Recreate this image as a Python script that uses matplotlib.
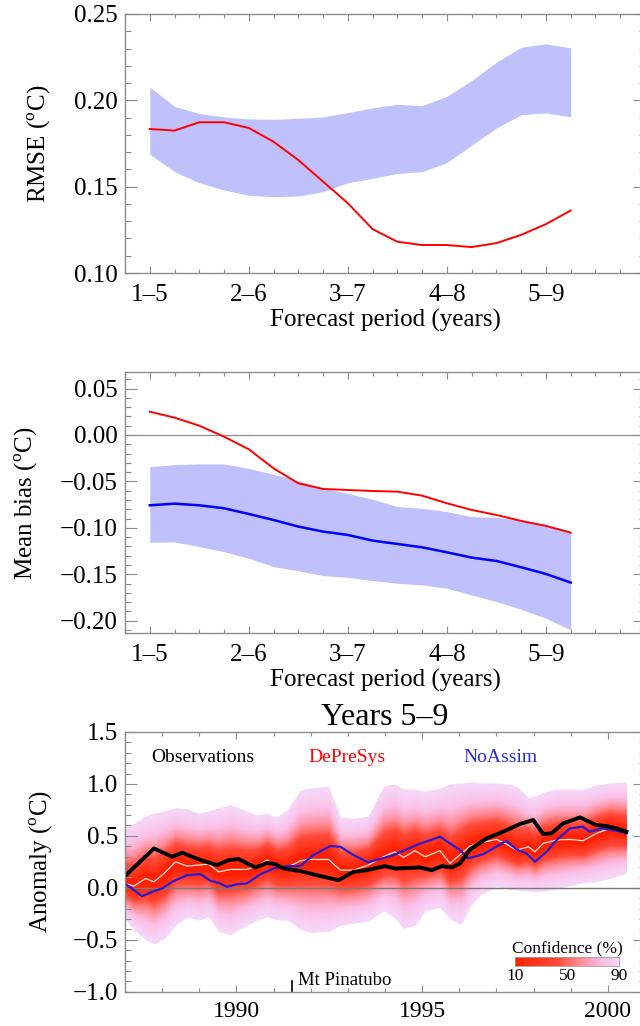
import numpy as np
import matplotlib
matplotlib.use('Agg')
import matplotlib.pyplot as plt
from matplotlib.colors import LinearSegmentedColormap
from matplotlib.ticker import MultipleLocator
from statistics import NormalDist

plt.rcParams['font.family'] = ['Liberation Serif', 'DejaVu Serif']
plt.rcParams['mathtext.fontset'] = 'custom'
plt.rcParams['mathtext.rm'] = 'Liberation Serif'

# forecast lead (years after 1-5 start), quarterly
lead = [0.0, 0.25, 0.5, 0.75, 1.0, 1.25, 1.5, 1.75, 2.0,
        2.25, 2.5, 2.75, 3.0, 3.25, 3.5, 3.75, 4.0, 4.25]
period_labels = ['1\u20135', '2\u20136', '3\u20137', '4\u20138', '5\u20139']

# RMSE panel
rmse_depresys = [0.1834, 0.1825, 0.1873, 0.1873, 0.1840, 0.1760, 0.1654, 0.1529, 0.1404,
                 0.1254, 0.1181, 0.1162, 0.1162, 0.1150, 0.1173, 0.1221, 0.1283, 0.1362]
rmse_noassim_hi = [0.2077, 0.1965, 0.1923, 0.1904, 0.1892, 0.1890, 0.1896, 0.1904, 0.1929,
                   0.1956, 0.1977, 0.1969, 0.2023, 0.2115, 0.2221, 0.2308, 0.2327, 0.2304]
rmse_noassim_lo = [0.1688, 0.1587, 0.1523, 0.1481, 0.1450, 0.1442, 0.1446, 0.1471, 0.1523,
                   0.1548, 0.1577, 0.1587, 0.1640, 0.1740, 0.1840, 0.1917, 0.1927, 0.1904]

# Mean bias panel
bias_depresys = [0.0251, 0.0187, 0.0100, -0.0018, -0.0154, -0.0359, -0.0520, -0.0581, -0.0592,
                 -0.0603, -0.0610, -0.0653, -0.0735, -0.0807, -0.0861, -0.0925, -0.0979, -0.1051]
bias_noassim = [-0.0757, -0.0739, -0.0757, -0.0789, -0.0850, -0.0915, -0.0986, -0.1040, -0.1076,
                -0.1137, -0.1173, -0.1209, -0.1263, -0.1320, -0.1356, -0.1424, -0.1496, -0.1589]
bias_noassim_hi = [-0.0341, -0.0319, -0.0312, -0.0312, -0.0359, -0.0423, -0.0491, -0.0574, -0.0628,
                   -0.0692, -0.0771, -0.0789, -0.0825, -0.0879, -0.0886, -0.0915, -0.0968, -0.1040]
bias_noassim_lo = [-0.1155, -0.1151, -0.1202, -0.1256, -0.1327, -0.1417, -0.1463, -0.1514, -0.1532,
                   -0.1568, -0.1596, -0.1614, -0.1650, -0.1722, -0.1793, -0.1876, -0.1973, -0.2098]

# Years 5-9 panel
obs_t = [1987.0, 1987.78, 1988.27, 1988.54, 1989.03, 1989.48, 1989.79, 1990.06, 1990.51,
         1990.83, 1991.05, 1991.27, 1991.72, 1992.26, 1992.75, 1993.15, 1993.51, 1994.0,
         1994.27, 1994.94, 1995.26, 1995.53, 1995.80, 1996.02, 1996.29, 1996.74, 1997.18,
         1997.63, 1997.99, 1998.26, 1998.48, 1998.80, 1999.25, 1999.69, 1999.96, 2000.23, 2000.5]
obs_v = [0.113, 0.379, 0.299, 0.338, 0.267, 0.219, 0.267, 0.277, 0.196,
         0.241, 0.228, 0.186, 0.161, 0.113, 0.074, 0.154, 0.170, 0.209,
         0.186, 0.196, 0.170, 0.209, 0.196, 0.235, 0.370, 0.476, 0.540,
         0.614, 0.653, 0.518, 0.524, 0.621, 0.678, 0.604, 0.595, 0.572, 0.540]

noa_t = [1987.0, 1987.46, 1987.78, 1988.0, 1988.27, 1988.67, 1989.03, 1989.30, 1989.52,
         1989.75, 1990.02, 1990.28, 1990.64, 1991.0, 1991.36, 1991.72, 1992.07, 1992.52,
         1992.80, 1993.15, 1993.55, 1994.23, 1994.85, 1995.48, 1995.75, 1996.02, 1996.24,
         1996.65, 1997.27, 1997.54, 1997.81, 1998.04, 1998.35, 1998.62, 1998.98, 1999.33,
         1999.51, 1999.87, 2000.23, 2000.5]
noa_v = [0.042, -0.080, -0.032, -0.006, 0.058, 0.122, 0.132, 0.068, 0.048,
         0.010, 0.035, 0.042, 0.129, 0.186, 0.209, 0.209, 0.315, 0.402,
         0.395, 0.315, 0.245, 0.315, 0.412, 0.492, 0.428, 0.363, 0.283,
         0.325, 0.453, 0.370, 0.331, 0.251, 0.347, 0.460, 0.572, 0.588,
         0.540, 0.572, 0.550, 0.524]

fan_t = [1987.0, 1987.24, 1987.55, 1987.78, 1988.05, 1988.36, 1988.67, 1988.98, 1989.25,
         1989.52, 1989.84, 1990.28, 1990.55, 1990.83, 1991.09, 1991.36, 1991.72, 1991.99,
         1992.48, 1992.80, 1993.15, 1993.55, 1993.96, 1994.27, 1994.50, 1994.81, 1995.08,
         1995.48, 1995.75, 1996.06, 1996.29, 1996.56, 1997.0, 1997.27, 1997.54, 1997.86,
         1998.04, 1998.26, 1998.62, 1998.98, 1999.33, 1999.69, 2000.05, 2000.5]
fan_med = [0.042, 0.016, 0.090, 0.058, 0.138, 0.251, 0.209, 0.219, 0.228,
           0.154, 0.177, 0.177, 0.209, 0.267, 0.209, 0.196, 0.260, 0.273,
           0.273, 0.170, 0.170, 0.219, 0.299, 0.347, 0.293, 0.357, 0.299,
           0.357, 0.235, 0.331, 0.402, 0.434, 0.466, 0.421, 0.363, 0.395,
           0.347, 0.428, 0.460, 0.466, 0.453, 0.524, 0.572, 0.540]
fan_hi90 = [0.58, 0.62, 0.69, 0.72, 0.74, 0.77, 0.76, 0.72, 0.74,
            0.77, 0.80, 0.74, 0.70, 0.72, 0.68, 0.75, 0.94, 0.96,
            0.98, 0.68, 0.67, 0.69, 0.98, 1.00, 0.95, 0.95, 0.93,
            0.96, 1.00, 1.01, 1.02, 1.01, 1.01, 1.00, 0.98, 0.87,
            0.88, 0.92, 0.95, 0.95, 0.95, 0.99, 1.01, 1.02]
fan_lo90 = [-0.30, -0.40, -0.50, -0.54, -0.49, -0.36, -0.28, -0.31, -0.28,
            -0.42, -0.45, -0.36, -0.31, -0.28, -0.31, -0.31, -0.40, -0.43,
            -0.42, -0.36, -0.34, -0.32, -0.22, -0.29, -0.39, -0.36, -0.22,
            -0.19, -0.30, -0.35, -0.18, -0.07, 0.01, -0.01, -0.02, -0.03,
            -0.04, -0.03, -0.01, 0.02, 0.05, 0.06, 0.09, 0.14]
pinatubo_year = 1991.5

GREY = '#8c8c8c'
TICK_FS = 18
LABEL_FS = 18
W, H = 640, 1026
fig = plt.figure(figsize=(W / 100, H / 100), dpi=100)


def px_axes(left, top, right, bottom):
    return fig.add_axes([left / W, 1 - bottom / H, (right - left) / W, (bottom - top) / H])


def style_axes(ax):
    for s in ax.spines.values():
        s.set_color(GREY)
        s.set_linewidth(1.0)
    ax.tick_params(which='both', direction='in', top=True, right=True, color=GREY,
                   labelsize=TICK_FS, width=0.8)
    ax.tick_params(axis='y', which='major', length=8.5, pad=5)
    ax.tick_params(axis='y', which='minor', length=4.3)
    ax.tick_params(axis='x', which='major', length=5, pad=8)
    ax.tick_params(axis='x', which='minor', length=2.8)


def lead_axes(ax):
    ax.set_xlim(-0.25, 5.0)
    ax.set_xticks(range(5))
    ax.set_xticklabels(period_labels)
    ax.xaxis.set_minor_locator(MultipleLocator(0.25))
    ax.set_xlabel('Forecast period (years)', fontsize=LABEL_FS, labelpad=2)


# ---- RMSE ----
ax1 = px_axes(125, 14, 645, 273)
style_axes(ax1)
ax1.fill_between(lead, rmse_noassim_lo, rmse_noassim_hi, color='#c0c0fc', lw=0)
ax1.plot(lead, rmse_depresys, color='#ff0000', lw=1.4)
ax1.set_ylim(0.10, 0.25)
ax1.set_yticks([0.10, 0.15, 0.20, 0.25])
ax1.set_yticklabels(['0.10', '0.15', '0.20', '0.25'])
ax1.yaxis.set_minor_locator(MultipleLocator(0.01))
lead_axes(ax1)
ax1.set_ylabel(r'RMSE ($^{\rm o}$C)', fontsize=LABEL_FS, va='center')
ax1.yaxis.set_label_coords(-0.165, 0.5)

# ---- Mean bias ----
ax2 = px_axes(125, 372.3, 645, 633.3)
style_axes(ax2)
ax2.fill_between(lead, bias_noassim_lo, bias_noassim_hi, color='#c0c0fc', lw=0)
ax2.axhline(0, color=GREY, lw=0.9)
ax2.plot(lead, bias_noassim, color='#0000ff', lw=1.8)
ax2.plot(lead, bias_depresys, color='#ff0000', lw=1.4)
ax2.set_ylim(-0.2135, 0.0675)
ax2.set_yticks([-0.20, -0.15, -0.10, -0.05, 0.00, 0.05])
ax2.set_yticklabels(['\u22120.20', '\u22120.15', '\u22120.10', '\u22120.05', '0.00', '0.05'])
ax2.yaxis.set_minor_locator(MultipleLocator(0.01))
lead_axes(ax2)
ax2.set_ylabel(r'Mean bias ($^{\rm o}$C)', fontsize=LABEL_FS, va='center')
ax2.yaxis.set_label_coords(-0.19, 0.5)

# ---- Years 5-9 ----
ax3 = px_axes(125, 732, 645, 991.7)
style_axes(ax3)
ax3.tick_params(axis='x', which='major', pad=7, labelsize=17)

fan_cmap = LinearSegmentedColormap.from_list(
    'fan', [(0.0, '#ff2000'), (0.4, '#ff4a38'), (0.62, '#ff8c98'),
            (0.82, '#fbbde4'), (1.0, '#f6d6f8')])
med = np.array(fan_med)
hi = np.array(fan_hi90)
lo = np.array(fan_lo90)
z90 = NormalDist().inv_cdf(0.95)
for p in range(90, 0, -2):
    frac = NormalDist().inv_cdf(0.5 + p / 200) / z90
    c = fan_cmap(np.clip((p - 10) / 80, 0, 1))
    ax3.fill_between(fan_t, med - (med - lo) * frac, med + (hi - med) * frac,
                     color=c, lw=0)
ax3.axhline(0, color='#7a7a7a', lw=1.0)
ax3.plot(fan_t, fan_med, color='#ffe4e4', lw=0.9)
ax3.plot(noa_t, noa_v, color='#2a1ad0', lw=1.6)
ax3.plot(obs_t, obs_v, color='#000000', lw=2.8)

ax3.set_xlim(1987, 2001)
ax3.set_xticks([1990, 1995, 2000])
ax3.xaxis.set_minor_locator(MultipleLocator(1))
ax3.set_ylim(-1.0, 1.5)
ax3.set_yticks([-1.0, -0.5, 0.0, 0.5, 1.0, 1.5])
ax3.set_yticklabels(['\u22121.0', '\u22120.5', '0.0', '0.5', '1.0', '1.5'])
ax3.yaxis.set_minor_locator(MultipleLocator(0.1))
ax3.set_ylabel(r'Anomaly ($^{\rm o}$C)', fontsize=LABEL_FS, va='center')
ax3.yaxis.set_label_coords(-0.16, 0.5)
ax3.set_title('Years 5\u20139', fontsize=23, pad=3)

ax3.text(0.05, 0.90, 'Observations', transform=ax3.transAxes, color='black',
         fontsize=14, va='center')
ax3.text(0.352, 0.90, 'DePreSys', transform=ax3.transAxes, color='#ff0000',
         fontsize=14, va='center')
ax3.text(0.65, 0.90, 'NoAssim', transform=ax3.transAxes, color='#2a2ae0',
         fontsize=14, va='center')

ax3.plot([pinatubo_year, pinatubo_year], [-1.0, -0.9], color='black', lw=1.2)
ax3.text(pinatubo_year + 0.15, -0.895, 'Mt Pinatubo', fontsize=13.5, va='center')

# confidence colour key
cax = px_axes(515, 956.7, 619.3, 965.7)
grad = np.linspace(10, 90, 256).reshape(1, -1)
cax.imshow(grad, cmap=fan_cmap, aspect='auto', extent=[10, 90, 0, 1], vmin=10, vmax=90)
cax.set_xlim(10, 90)
cax.set_yticks([])
cax.set_xticks([10, 50, 90])
cax.tick_params(axis='x', length=0, labelsize=12.5, pad=2)
for s in cax.spines.values():
    s.set_color('#a0a0a0')
    s.set_linewidth(0.6)
cax.set_title('Confidence (%)', fontsize=12.5, pad=1)

fig.savefig('out.png', dpi=100)
